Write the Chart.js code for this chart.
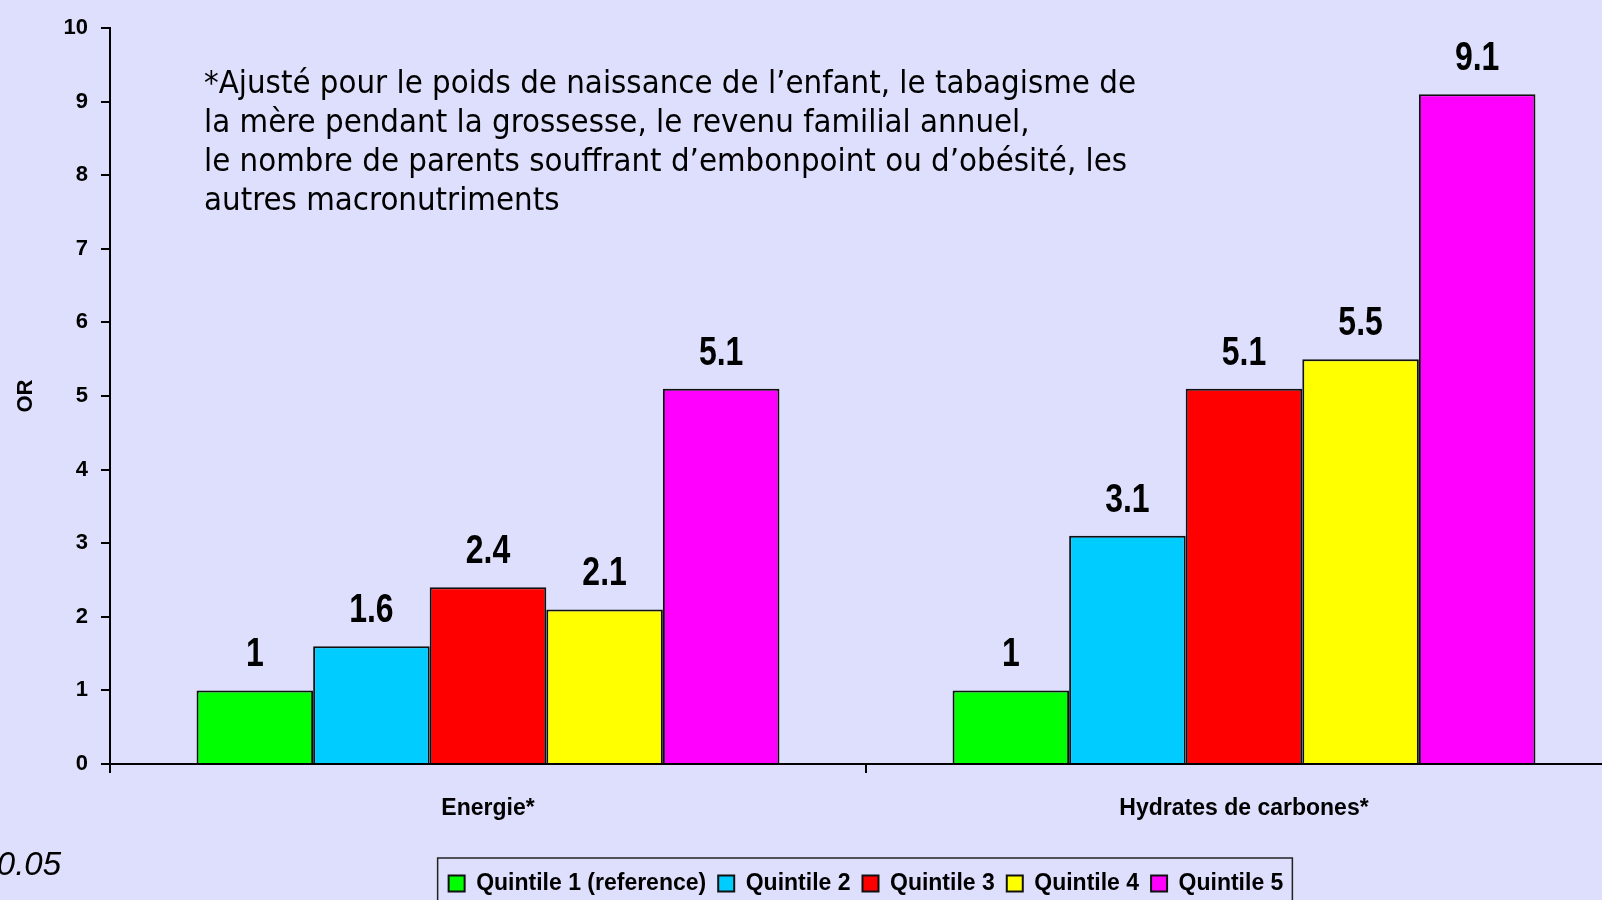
<!DOCTYPE html>
<html>
<head>
<meta charset="utf-8">
<script src="https://cdn.jsdelivr.net/npm/chart.js@4.4.0/dist/chart.umd.min.js"></script>
<style>
  html, body { margin: 0; padding: 0; background: #dddffc; overflow: hidden; }
  #wrap { position: absolute; left: 0; top: 0; width: 1640px; height: 905px; }
</style>
</head>
<body>
<div id="wrap"><canvas id="chart"></canvas></div>
<script>
const categories = ['Energie*', 'Hydrates de carbones*'];
const seriesNames = ['Quintile 1 (reference)', 'Quintile 2', 'Quintile 3', 'Quintile 4', 'Quintile 5'];
const quintile1 = [1, 1];
const quintile2 = [1.6, 3.1];
const quintile3 = [2.4, 5.1];
const quintile4 = [2.1, 5.5];
const quintile5 = [5.1, 9.1];
const seriesColors = ['#00ff00', '#00ccff', '#ff0000', '#ffff00', '#ff00ff'];
const yMin = 0, yMax = 10, yStep = 1;
const yTitle = 'OR';
const noteLines = [
    '*Ajusté pour le poids de naissance de l\u2019enfant, le tabagisme de',
    'la mère pendant la grossesse, le revenu familial annuel,',
    'le nombre de parents souffrant d\u2019embonpoint ou d\u2019obésité, les',
    'autres macronutriments'
];
const footnote = 'p < 0.05';

const arial = '"Liberation Sans", Arial, sans-serif';
const allSeries = [quintile1, quintile2, quintile3, quintile4, quintile5];

// value above each bar, condensed like the original
const valueLabels = {
    id: 'valueLabels',
    afterDatasetsDraw(chart) {
        const ctx = chart.ctx;
        ctx.save();
        ctx.font = 'bold 40px ' + arial;
        ctx.fillStyle = '#000';
        ctx.textAlign = 'center';
        ctx.textBaseline = 'alphabetic';
        chart.data.datasets.forEach((ds, i) => {
            chart.getDatasetMeta(i).data.forEach((bar, j) => {
                ctx.save();
                ctx.translate(bar.x, bar.y - 24);
                ctx.scale(0.8, 1);
                ctx.fillText(String(ds.data[j]), 0, 0);
                ctx.restore();
            });
        });
        ctx.restore();
    }
};

// note text, footnote and frame round the legend
const extras = {
    id: 'extras',
    afterDraw(chart) {
        const ctx = chart.ctx;
        ctx.save();
        ctx.fillStyle = '#000';
        ctx.font = '32px "DejaVu Sans Condensed", "Noto Sans", sans-serif';
        ctx.textBaseline = 'middle';
        const sx = 932 / ctx.measureText(noteLines[0]).width;
        noteLines.forEach((line, i) => {
            ctx.save();
            ctx.translate(204, 85 + i * 39);
            ctx.scale(sx, 1);
            ctx.fillText(line, 0, 0);
            ctx.restore();
        });

        ctx.font = 'italic 33px ' + arial;
        ctx.textAlign = 'right';
        ctx.fillText(footnote, 61, 866);

        const boxes = chart.legend.legendHitBoxes;
        if (boxes && boxes.length) {
            const first = boxes[0], last = boxes[boxes.length - 1];
            const left = first.left - 11;
            const right = last.left + last.width + 9;
            const top = first.top - 14;
            ctx.strokeStyle = '#222';
            ctx.lineWidth = 1.5;
            ctx.strokeRect(left, top, right - left, 80);
        }
        ctx.restore();
    }
};

const ctx = document.getElementById('chart').getContext('2d');
const chart = new Chart(ctx, {
    type: 'bar',
    data: {
        labels: categories,
        datasets: allSeries.map((vals, i) => ({
            label: seriesNames[i],
            data: vals,
            backgroundColor: seriesColors[i],
            borderColor: '#111',
            borderWidth: 2,
            categoryPercentage: 0.771,
            barPercentage: 1
        }))
    },
    options: {
        responsive: true,
        maintainAspectRatio: false,
        animation: false,
        layout: { padding: { left: 0, top: 28, right: 18, bottom: 0 } },
        scales: {
            x: {
                grid: { drawOnChartArea: false, color: '#000', lineWidth: 2, tickLength: 9 },
                border: { color: '#000', width: 2 },
                ticks: { color: '#000', padding: 22, font: { family: arial, weight: 'bold', size: 23 } },
                afterFit(scale) { scale.height = 96; }
            },
            y: {
                min: yMin,
                max: yMax,
                grid: { drawOnChartArea: false, color: '#000', lineWidth: 2, tickLength: 9 },
                border: { color: '#000', width: 2 },
                ticks: { stepSize: yStep, color: '#000', padding: 13, font: { family: arial, weight: 'bold', size: 22 } },
                title: { display: true, text: yTitle, color: '#000', padding: { top: 13, bottom: 0 }, font: { family: arial, weight: 'bold', size: 22 } },
                afterFit(scale) { scale.width = 110; }
            }
        },
        plugins: {
            legend: {
                position: 'bottom',
                fullSize: false,
                labels: {
                    color: '#000',
                    boxWidth: 16,
                    boxHeight: 16,
                    padding: 12,
                    font: { family: arial, weight: 'bold', size: 23 }
                }
            },
            tooltip: { enabled: false }
        }
    },
    plugins: [valueLabels, extras]
});
</script>
</body>
</html>
